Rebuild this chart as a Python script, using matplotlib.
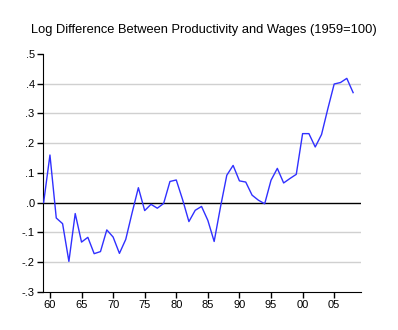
import numpy as np
import matplotlib.pyplot as plt
from matplotlib.ticker import FixedLocator, FuncFormatter

plt.rcParams['font.family'] = ['Liberation Sans', 'DejaVu Sans']

years = np.arange(1959, 2009)
gap = [0.0, 0.16, -0.052, -0.071, -0.198, -0.037, -0.133, -0.117, -0.172, -0.165,
       -0.092, -0.116, -0.171, -0.124, -0.035, 0.05, -0.027, -0.006, -0.019, -0.003,
       0.071, 0.076, 0.01, -0.064, -0.026, -0.013, -0.06, -0.131, -0.015, 0.092,
       0.125, 0.073, 0.069, 0.025, 0.008, -0.004, 0.075, 0.115, 0.066, 0.081,
       0.095, 0.232, 0.232, 0.187, 0.229, 0.316, 0.399, 0.404, 0.418, 0.370]

yticks = [-0.3, -0.2, -0.1, 0.0, 0.1, 0.2, 0.3, 0.4, 0.5]
ylabels = ['-.3', '-.2', '-.1', '.0', '.1', '.2', '.3', '.4', '.5']
xticks = [1960, 1965, 1970, 1975, 1980, 1985, 1990, 1995, 2000, 2005]

fig = plt.figure(figsize=(3.98, 3.30), dpi=100)
ax = fig.add_axes([43 / 398, 38.3 / 330, 317.7 / 398, 237.7 / 330])

for v in [-0.2, -0.1, 0.1, 0.2, 0.3, 0.4]:
    ax.axhline(v, color='#d0d0d0', lw=1, zorder=1)
ax.axhline(0, color='black', lw=1, zorder=2)

ax.plot(years, gap, color='#3030ff', lw=1, zorder=3)

ax.set_xlim(1958.9, 2009.2)
ax.set_ylim(-0.3, 0.5)
ax.yaxis.set_major_locator(FixedLocator(yticks))
ax.set_yticklabels(ylabels)
ax.xaxis.set_major_locator(FixedLocator(xticks))
ax.xaxis.set_major_formatter(FuncFormatter(lambda x, p: '%02d' % (int(x) % 100)))

ax.spines['top'].set_visible(False)
ax.spines['right'].set_visible(False)
ax.tick_params(direction='out', length=4, width=1, labelsize=8, pad=2)

fig.text(0.511, 0.91, 'Log Difference Between Productivity and Wages (1959=100)',
         ha='center', va='center', fontsize=9.3)

fig.savefig('out.png', dpi=100)
